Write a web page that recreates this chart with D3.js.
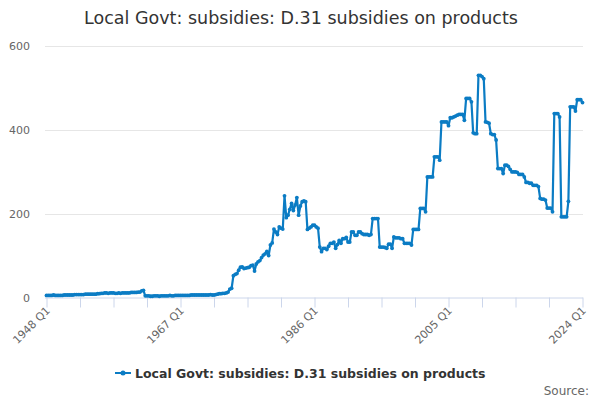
<!DOCTYPE html>
<html>
<head>
<meta charset="utf-8">
<script src="https://cdn.jsdelivr.net/npm/d3@7"></script>
<style>
  body { margin: 0; background: #fff; }
  svg { font-family: "DejaVu Sans", sans-serif; }
</style>
</head>
<body>
<svg id="chart" width="600" height="400"></svg>
<script>
var chartTitle = "Local Govt: subsidies: D.31 subsidies on products";
var seriesName = "Local Govt: subsidies: D.31 subsidies on products";
var firstYear = 1948, lastYear = 2024;
var tickLabels = ["1948 Q1", "1967 Q1", "1986 Q1", "2005 Q1", "2024 Q1"];
var yTicks = [0, 200, 400, 600];

// quarterly values, 1948 Q1 .. 2024 Q1
var values = [
  5, 5, 5, 5, 6, 5, 5, 5, 5, 5,
  6, 6, 6, 6, 6, 6, 7, 7, 7, 7,
  7, 7, 8, 8, 8, 8, 8, 8, 8, 9,
  9, 10, 10, 11, 11, 10, 11, 11, 11, 10,
  10, 11, 10, 11, 11, 11, 11, 11, 12, 12,
  12, 12, 13, 13, 16, 17, 4, 4, 4, 3,
  3, 4, 4, 4, 3, 4, 4, 4, 4, 4,
  5, 4, 4, 5, 5, 5, 5, 5, 5, 5,
  5, 5, 6, 6, 6, 6, 6, 6, 6, 6,
  6, 6, 6, 7, 6, 6, 7, 8, 9, 9,
  10, 10, 11, 13, 20, 22, 52, 55, 57, 65,
  72, 73, 69, 70, 71, 72, 76, 77, 63, 80,
  85, 88, 95, 101, 104, 110, 100, 125, 130, 163,
  156, 150, 168, 165, 163, 242, 190, 196, 210, 224,
  207, 220, 238, 196, 218, 228, 230, 228, 162, 165,
  168, 172, 172, 168, 165, 120, 109, 117, 117, 114,
  122, 129, 129, 132, 117, 126, 136, 129, 140, 140,
  143, 132, 132, 156, 156, 148, 148, 156, 156, 152,
  150, 150, 150, 148, 150, 188, 188, 188, 188, 120,
  120, 120, 119, 117, 127, 127, 117, 144, 142, 142,
  142, 140, 140, 129, 129, 129, 129, 125, 162, 162,
  162, 162, 212, 212, 212, 204, 287, 287, 287, 287,
  335, 335, 335, 327, 418, 418, 418, 418, 409, 428,
  428, 430, 432, 434, 436, 436, 436, 422, 474, 474,
  474, 466, 392, 390, 390, 529, 529, 526, 521, 418,
  417, 415, 390, 388, 388, 375, 307, 307, 307, 295,
  315, 315, 312, 305, 299, 299, 299, 298, 293, 293,
  293, 287, 274, 274, 272, 272, 267, 267, 267, 264,
  236, 234, 234, 232, 213, 213, 213, 204, 438, 438,
  438, 430, 192, 192, 192, 192, 229, 454, 454, 454,
  444, 471, 471, 471, 464
];

var quarters = [];
for (var yr = firstYear; yr <= lastYear; yr++) {
  for (var q = 1; q <= 4; q++) {
    if (yr == lastYear && q > 1) break;
    quarters.push(yr + " Q" + q);
  }
}
var data = quarters.map(function(c, i) { return {cat: c, v: values[i]}; });

var svg = d3.select("#chart");
var plotLeft = 45, plotRight = 583, plotTop = 45.5, plotBottom = 297.5;
var lineColor = "#0b7cc4";

var x = d3.scalePoint()
    .domain(quarters)
    .range([plotLeft + 1.5, plotRight - 0.5]);

var y = d3.scaleLinear()
    .domain([0, 600])
    .range([plotBottom, plotTop]);

// title
svg.append("text")
    .attr("x", 301).attr("y", 24)
    .attr("text-anchor", "middle")
    .style("font-size", "17.5px")
    .style("fill", "#333")
    .text(chartTitle);

// gridlines
svg.append("g").selectAll("line")
    .data(yTicks.filter(function(d) { return d > 0; }))
    .enter().append("line")
    .attr("x1", plotLeft).attr("x2", plotRight)
    .attr("y1", function(d) { return Math.round(y(d)) + 0.5; })
    .attr("y2", function(d) { return Math.round(y(d)) + 0.5; })
    .style("stroke", "#e6e6e6");

// y labels
svg.append("g").selectAll("text")
    .data(yTicks)
    .enter().append("text")
    .attr("x", 30)
    .attr("y", function(d) { return y(d) + 4; })
    .attr("text-anchor", "end")
    .style("font-size", "11px")
    .style("fill", "#666")
    .text(function(d) { return d; });

// x axis
var tickCats = quarters.filter(function(d, i) { return i % 19 == 0; });
var xAxis = d3.axisBottom(x)
    .tickValues(tickCats)
    .tickSize(10)
    .tickFormat(function(d) { return tickLabels.indexOf(d) >= 0 ? d : ""; });

var gx = svg.append("g")
    .attr("transform", "translate(0," + plotBottom + ")")
    .call(xAxis);
gx.select(".domain").attr("d", "M" + plotLeft + ",0.5H" + plotRight).style("stroke", "#ccd6eb");
gx.selectAll(".tick line").style("stroke", "#ccd6eb");
gx.selectAll(".tick text")
    .style("font-size", "11px")
    .style("font-family", "DejaVu Sans, sans-serif")
    .style("fill", "#666")
    .attr("text-anchor", "end")
    .attr("transform", "translate(1,11) rotate(-45)")
    .attr("dy", "0.35em")
    .attr("y", 0)
    .attr("x", 0);

// series
var line = d3.line()
    .x(function(d) { return x(d.cat); })
    .y(function(d) { return y(d.v); });

svg.append("path")
    .datum(data)
    .attr("d", line)
    .style("fill", "none")
    .style("stroke", lineColor)
    .style("stroke-width", 2.2)
    .style("stroke-linejoin", "round");

svg.append("g").selectAll("circle")
    .data(data)
    .enter().append("circle")
    .attr("cx", function(d) { return x(d.cat); })
    .attr("cy", function(d) { return y(d.v); })
    .attr("r", 1.9)
    .style("fill", lineColor);

// legend
var lg = svg.append("g").attr("transform", "translate(115,373)");
lg.append("line")
    .attr("x1", 0).attr("x2", 16)
    .style("stroke", lineColor).style("stroke-width", 2);
lg.append("circle").attr("cx", 8).attr("r", 2.5).style("fill", lineColor);
lg.append("text")
    .attr("x", 20).attr("y", 5)
    .style("font-size", "12.5px")
    .style("font-weight", "bold")
    .style("fill", "#333")
    .text(seriesName);

svg.append("text")
    .attr("x", 589).attr("y", 395)
    .attr("text-anchor", "end")
    .style("font-size", "12px")
    .style("fill", "#666")
    .text("Source:");
</script>
</body>
</html>
